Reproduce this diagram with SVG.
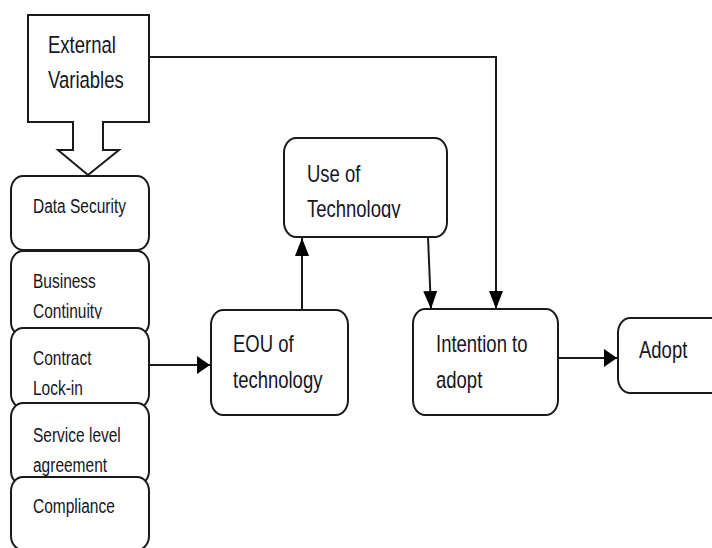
<svg xmlns="http://www.w3.org/2000/svg" width="712" height="548" viewBox="0 0 712 548">
<style>
.box{fill:#fff;stroke:#1a1a1a;stroke-width:2}
.ln{fill:none;stroke:#1a1a1a;stroke-width:2}
.t{font-family:"Liberation Sans",Arial,sans-serif;fill:#15151f}
.lg{font-size:18.5px}
.sm{font-size:15.5px}
</style>
<defs>
<marker id="mh" markerUnits="userSpaceOnUse" markerWidth="14" markerHeight="20" refX="13" refY="9" orient="auto">
<path d="M0,0 L13,9 L0,18 Z" fill="#000"/>
</marker>
<marker id="mv" markerUnits="userSpaceOnUse" markerWidth="19" markerHeight="16" refX="18" refY="7" orient="auto">
<path d="M0,0 L18,7 L0,14 Z" fill="#000"/>
</marker>
<clipPath id="cUse"><rect x="284" y="138" width="163" height="80"/></clipPath>
<clipPath id="cBus"><rect x="11" y="251" width="138" height="68"/></clipPath>
</defs>

<g id="connectors">
<path class="ln" d="M149,57 H496 V309" marker-end="url(#mv)"/>
<path class="ln" d="M149,365 H210" marker-end="url(#mh)"/>
<path class="ln" d="M302,310 V238" marker-end="url(#mv)"/>
<path class="ln" d="M428,237 L431,309" marker-end="url(#mv)"/>
<path class="ln" d="M558,358 H617" marker-end="url(#mh)"/>
</g>

<g id="external-variables">
<path class="box" d="M28,15 H149 V122 H103 V150 H119 L88,175 L58,150 H73 V122 H28 Z"/>
<text class="t lg" transform="translate(48,53) scale(1,1.28)">External</text>
<text class="t lg" transform="translate(48,88) scale(1,1.28)">Variables</text>
</g>

<g id="data-security">
<rect class="box" x="11" y="176" width="138" height="74" rx="12" ry="14"/>
<text class="t sm" transform="translate(33,213) scale(1,1.25)">Data Security</text>
</g>

<g id="business-continuity">
<rect class="box" x="11" y="251" width="138" height="85" rx="12" ry="14"/>
<g clip-path="url(#cBus)">
<text class="t sm" transform="translate(33,288) scale(1,1.25)">Business</text>
<text class="t sm" transform="translate(33,318) scale(1,1.25)">Continuity</text>
</g>
</g>

<g id="contract-lock-in">
<rect class="box" x="11" y="328" width="138" height="80" rx="12" ry="14"/>
<text class="t sm" transform="translate(33,365) scale(1,1.25)">Contract</text>
<text class="t sm" transform="translate(33,395) scale(1,1.25)">Lock-in</text>
</g>

<g id="service-level-agreement">
<rect class="box" x="11" y="403" width="138" height="82" rx="12" ry="14"/>
<text class="t sm" transform="translate(33,442) scale(1,1.25)">Service level</text>
<text class="t sm" transform="translate(33,472) scale(1,1.25)">agreement</text>
</g>

<g id="compliance">
<rect class="box" x="11" y="477" width="138" height="73" rx="12" ry="14"/>
<text class="t sm" transform="translate(33,513) scale(1,1.25)">Compliance</text>
</g>

<g id="eou-of-technology">
<rect class="box" x="211" y="310" width="137" height="105" rx="12" ry="15"/>
<text class="t lg" transform="translate(233,352) scale(1,1.28)">EOU of</text>
<text class="t lg" transform="translate(233,388) scale(1,1.28)">technology</text>
</g>

<g id="use-of-technology">
<rect class="box" x="284" y="138" width="163" height="99" rx="12" ry="15"/>
<g clip-path="url(#cUse)">
<text class="t lg" transform="translate(307,182) scale(1,1.28)">Use of</text>
<text class="t lg" transform="translate(307,217) scale(1,1.28)">Technology</text>
</g>
</g>

<g id="intention-to-adopt">
<rect class="box" x="413" y="309" width="145" height="106" rx="12" ry="15"/>
<text class="t lg" transform="translate(436,352) scale(1,1.28)">Intention to</text>
<text class="t lg" transform="translate(436,388) scale(1,1.28)">adopt</text>
</g>

<g id="adopt">
<rect class="box" x="618" y="318" width="110" height="75" rx="12" ry="15"/>
<text class="t lg" transform="translate(639,358) scale(1,1.28)">Adopt</text>
</g>
</svg>
